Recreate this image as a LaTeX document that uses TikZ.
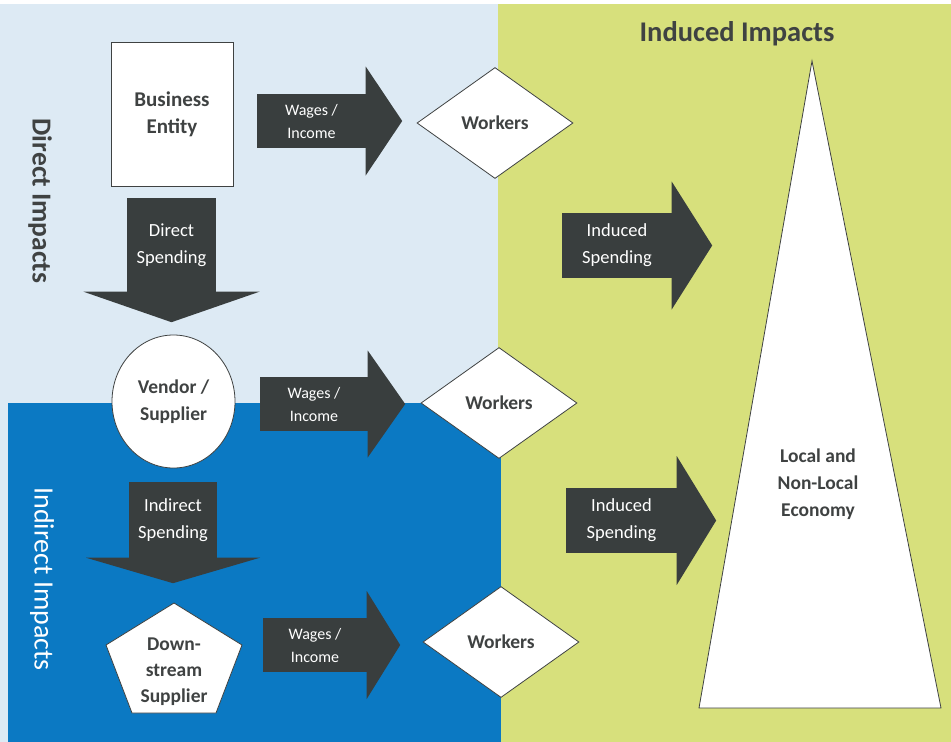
\documentclass[tikz,border=0pt]{standalone}
\usepackage{fontspec}
\setmainfont{Carlito}
\usepackage{tikz}
\usetikzlibrary{shapes.geometric}
\definecolor{PaleBlue}{HTML}{DDEAF4}
\definecolor{DeepBlue}{HTML}{0B79C3}
\definecolor{LimeBG}{HTML}{D7E07C}
\definecolor{ShaftGray}{HTML}{393E3E}
\definecolor{InkGray}{HTML}{3F4242}

\begin{document}
\begin{tikzpicture}[x=1pt,y=-1pt,
  txt/.style={text=InkGray,align=center,
              font=\bfseries\fontsize{19.5}{27}\selectfont},
  box/.style={txt,draw=InkGray,line width=0.8pt,fill=white},
  wrk/.style={box,diamond,minimum width=156pt,minimum height=111pt,
              inner sep=0pt},
  shaft/.style={fill=ShaftGray,text=white,align=center,inner sep=0pt},
  wage/.style={shaft,minimum height=54pt,
               font=\fontsize{16}{23}\selectfont},
  spend/.style={shaft,font=\fontsize{18.5}{27}\selectfont},
  head/.style={fill=ShaftGray}]
% three impact zones
\fill[white] (0,0) rectangle (951,742);
\fill[PaleBlue] (0,4) rectangle (498,742);
\fill[LimeBG] (498,4) rectangle (951,742);
\fill[DeepBlue] (8,403) rectangle (501,742);

% direct level
\node[box,minimum width=122pt,minimum height=144pt,font=\bfseries\fontsize{21}{27}\selectfont] (be) at (172,114) {Business\\Entity};
\node[wage,minimum width=109pt] (wi1) at (311.5,121) {Wages /\\Income};
\fill[head] (wi1.east) ++(-0.5,-54.5) -- ++(36.5,54.5) -- ++(-36.5,54.5) -- cycle;
\node[wrk] (wk1) at (495,123) {Workers};
\node[spend,minimum width=89pt,minimum height=94pt] (dsp) at (171.5,245) {Direct\\Spending};
\fill[head] (dsp.south) ++(-88,-0.5) -- ++(88,30.5) -- ++(88,-30.5) -- cycle;

% vendor level
\node[box,ellipse,minimum width=123pt,minimum height=133pt,inner sep=0pt] (vs) at (173.5,401.5) {Vendor /\\Supplier};
\node[wage,minimum width=108pt] (wi2) at (314,404) {Wages /\\Income};
\fill[head] (wi2.east) ++(-0.5,-53.5) -- ++(37.5,53.5) -- ++(-37.5,53.5) -- cycle;
\node[wrk] (wk2) at (499,403) {Workers};
\node[spend,minimum width=88pt,minimum height=76pt] (isp) at (173,520) {Indirect\\Spending};
\fill[head] (isp.south) ++(-87,-0.5) -- ++(87,25.5) -- ++(87,-25.5) -- cycle;

% downstream level
\draw[box] (174,603) -- (242,645) -- (216,713) -- (132,713) -- (106,645) -- cycle;
\node[txt,font=\bfseries\fontsize{19.5}{26}\selectfont] (dss) at (174,672) {Down-\\stream\\Supplier};
\node[wage,minimum width=104pt] (wi3) at (315,645) {Wages /\\Income};
\fill[head] (wi3.east) ++(-0.5,-54) -- ++(33.5,54) -- ++(-33.5,54) -- cycle;
\node[wrk] (wk3) at (501,642) {Workers};

% induced side
\node[spend,minimum width=110pt,minimum height=65pt] (is1) at (617,245.5) {Induced\\Spending};
\fill[head] (is1.east) ++(-0.5,-64) -- ++(40.5,64) -- ++(-40.5,64) -- cycle;
\node[spend,minimum width=111pt,minimum height=65pt] (is2) at (621.5,520.5) {Induced\\Spending};
\fill[head] (is2.east) ++(-0.5,-64.5) -- ++(39.5,64.5) -- ++(-39.5,64.5) -- cycle;
\draw[box] (812,61) -- (941,708) -- (699,708) -- cycle;
\node[txt] (eco) at (818,484) {Local and\\Non-Local\\Economy};

% zone titles
\node[txt,font=\bfseries\fontsize{28.5}{32}\selectfont] (tind) at (737,34) {Induced Impacts};
\node[txt,rotate=-90,font=\bfseries\fontsize{27.5}{30}\selectfont] (tdir) at (40,201) {Direct Impacts};
\node[txt,rotate=-90,text=white,font=\fontsize{28}{30}\selectfont] (tidr) at (42,579) {Indirect Impacts};
\end{tikzpicture}
\end{document}
